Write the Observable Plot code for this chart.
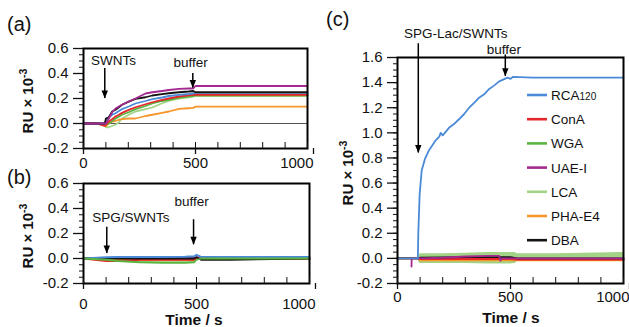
<!DOCTYPE html>
<html><head><meta charset="utf-8">
<script src="https://cdn.jsdelivr.net/npm/d3@7"></script>
<script src="https://cdn.jsdelivr.net/npm/@observablehq/plot@0.6"></script>
<style>
html,body{margin:0;padding:0;background:#fff;}
#wrap{position:relative;width:629px;height:327px;overflow:hidden;font-family:"Liberation Sans",Arial,Helvetica,sans-serif;}
.pn{position:absolute;}
#ov{position:absolute;left:0;top:0;pointer-events:none;}
</style></head><body>
<div id="wrap">
<div class="pn" id="pa" style="left:0;top:0;width:320px;height:170px"></div>
<div class="pn" id="pb" style="left:0;top:170px;width:320px;height:157px"></div>
<div class="pn" id="pc" style="left:320px;top:0;width:309px;height:327px"></div>
<svg id="ov" width="629" height="327" font-family="Liberation Sans, Arial, sans-serif" fill="#111">
  <text x="7" y="31" font-size="20">(a)</text>
  <text x="7" y="184" font-size="20">(b)</text>
  <text x="326" y="26" font-size="20">(c)</text>
  <text transform="translate(33,101) rotate(-90)" text-anchor="middle" font-size="15" font-weight="bold">RU × 10<tspan dy="-6" font-size="10.5">-3</tspan></text>
  <text transform="translate(33,236) rotate(-90)" text-anchor="middle" font-size="15" font-weight="bold">RU × 10<tspan dy="-6" font-size="10.5">-3</tspan></text>
  <text transform="translate(353,173) rotate(-90)" text-anchor="middle" font-size="15" font-weight="bold">RU × 10<tspan dy="-6" font-size="10.5">-3</tspan></text>
  <text x="194" y="325" text-anchor="middle" font-size="15.5" font-weight="bold">Time / s</text>
  <text x="511" y="323" text-anchor="middle" font-size="15.5" font-weight="bold">Time / s</text>
  <g id="legend"></g>
</svg>
</div>
<script>
// ---------- series ----------
const series = ["RCA120", "ConA", "WGA", "UAE-I", "LCA", "PHA-E4", "DBA"];
const colors = ["#4a8ad6", "#e5262b", "#5ab540", "#a4298f", "#a3d386", "#f7962a", "#141414"];

// ---------- tick labels ----------
const xMajor = [0, 500];
const xLast = [1000];
const xMinor = [0, 100, 200, 300, 400, 500, 600, 700, 800, 900, 1000];
const yMajorAB = [-0.2, 0.0, 0.2, 0.4, 0.6];
const yMajorC = [-0.2, 0.0, 0.2, 0.4, 0.6, 0.8, 1.0, 1.2, 1.4, 1.6];

// ---------- panel (a): SWNTs ----------
const tA = [0, 60, 95, 100, 113, 128, 143, 158, 172, 202, 232, 277, 307, 351, 381, 426, 470, 490, 500, 1000];
const aRCA120 = [0, 0, 0, 0.02, 0.05, 0.07, 0.082, 0.10, 0.115, 0.136, 0.16, 0.18, 0.195, 0.208, 0.22, 0.229, 0.236, 0.24, 0.245, 0.245];
const aConA   = [0, 0, -0.02, -0.01, 0.016, 0.035, 0.056, 0.07, 0.085, 0.109, 0.13, 0.154, 0.17, 0.189, 0.20, 0.216, 0.225, 0.23, 0.23, 0.23];
const aWGA    = [0, 0, -0.01, -0.01, 0.0, 0.02, 0.04, 0.055, 0.07, 0.09, 0.115, 0.14, 0.16, 0.18, 0.19, 0.205, 0.215, 0.22, 0.225, 0.225];
const aUAEI   = [0, 0, 0, 0.0, 0.04, 0.09, 0.12, 0.136, 0.15, 0.176, 0.20, 0.24, 0.25, 0.26, 0.268, 0.277, 0.28, 0.28, 0.30, 0.30];
const aLCA    = [0, 0, -0.01, -0.03, -0.03, -0.02, -0.01, 0.01, 0.04, 0.07, 0.096, 0.115, 0.128, 0.162, 0.18, 0.20, 0.21, 0.215, 0.22, 0.22];
const aPHAE4  = [0, 0, -0.02, -0.02, 0.0, 0.015, 0.02, 0.03, 0.035, 0.04, 0.04, 0.06, 0.07, 0.085, 0.096, 0.117, 0.122, 0.125, 0.135, 0.135];
const aDBA    = [0, 0, 0, 0.04, 0.05, 0.096, 0.11, 0.13, 0.15, 0.175, 0.197, 0.21, 0.224, 0.235, 0.242, 0.25, 0.256, 0.26, 0.25, 0.25];

// ---------- panel (b): SPG/SWNTs ----------
const tB = [0, 100, 150, 250, 350, 450, 490, 500, 520, 650, 1000];
const bRCA120 = [0, 0.01, 0.012, 0.012, 0.012, 0.014, 0.018, 0.03, 0.013, 0.012, 0.012];
const bConA   = [0, -0.02, -0.02, -0.01, -0.01, -0.01, -0.01, 0, -0.005, -0.005, -0.005];
const bWGA    = [0, -0.01, -0.02, -0.03, -0.035, -0.035, -0.03, -0.01, 0, 0, 0];
const bUAEI   = [0, 0.005, 0.005, 0.005, 0.005, 0.005, 0.005, 0.01, 0.005, 0.005, 0.005];
const bLCA    = [0, 0, -0.01, -0.02, -0.025, -0.025, -0.02, -0.005, 0, 0, -0.005];
const bPHAE4  = [0, -0.01, -0.01, -0.01, -0.01, -0.01, -0.01, 0, -0.005, -0.005, -0.005];
const bDBA    = [0, 0, 0, 0, 0, 0, 0, 0.01, -0.01, -0.01, 0];

// ---------- panel (c): SPG-Lac/SWNTs ----------
const tC = [0, 90, 92, 98, 107, 121, 139, 169, 185, 191, 200, 228, 250, 273, 295, 317, 340, 361, 385, 406, 430, 450, 487, 500, 510, 600, 800, 1000];
const cRCA120 = [0, 0, 0.2, 0.51, 0.70, 0.79, 0.86, 0.94, 0.97, 1.0, 0.98, 1.04, 1.07, 1.11, 1.15, 1.20, 1.24, 1.28, 1.31, 1.35, 1.38, 1.41, 1.44, 1.43, 1.445, 1.44, 1.44, 1.44];
const tC2 = [0, 92, 100, 200, 300, 400, 450, 500, 530, 700, 1000];
const cConA  = [0, 0, -0.005, -0.005, -0.005, -0.005, -0.005, -0.005, -0.01, -0.01, -0.01];
const cWGA   = [0, 0, -0.01, -0.01, -0.01, -0.01, -0.01, -0.01, -0.005, -0.005, -0.005];
const cPHAE4 = [0, 0, -0.015, -0.015, -0.015, -0.015, -0.015, -0.015, -0.015, -0.015, -0.015];
const cDBA   = [0, 0, 0.005, 0.008, 0.01, 0.01, 0.01, 0.01, 0.0, 0.0, 0.0];
const tUAEI = [62, 62.5, 64, 100, 200, 300, 400, 450, 455, 460, 530, 700, 1000];
const cUAEI = [-0.065, -0.01, 0, 0, 0.005, 0.015, 0.02, 0.02, -0.02, 0.0, 0.0, 0.0, 0.0];
const tLCA = [0, 92, 100, 200, 300, 400, 500, 520, 530, 700, 1000];
const cLCAlo = [0, 0, -0.035, -0.035, -0.035, -0.038, -0.038, -0.035, -0.01, -0.005, 0];
const cLCAhi = [0, 0, 0.03, 0.03, 0.035, 0.04, 0.04, 0.04, 0.03, 0.03, 0.04];

// ---------- annotations (arrows + labels) ----------
const annA = [
  {label: "SWNTs", tx: 134, ty: 0.50, t: 95, y1: 0.44, y2: 0.20},
  {label: "buffer", tx: 478, ty: 0.49, t: 488, y1: 0.40, y2: 0.285}
];
const annB = [
  {label: "SPG/SWNTs", tx: 210, ty: 0.33, t: 103, y1: 0.25, y2: 0.04},
  {label: "buffer", tx: 478, ty: 0.456, t: 487, y1: 0.31, y2: 0.11}
];
const annC = [
  {label: "SPG-Lac/SWNTs", tx: 258, ty: 1.79, t: 92, y1: 1.71, y2: 0.84},
  {label: "buffer", tx: 471, ty: 1.66, t: 477, y1: 1.62, y2: 1.45}
];

// ---------- helpers ----------
function rows(ts, vals, name) { return ts.map((t, i) => ({t, v: vals[i], s: name})); }
function multi(list) { return list.flatMap(([ts, vals, name]) => rows(ts, vals, name)); }

const headDown = {
  draw(ctx) { ctx.moveTo(0, 0); ctx.lineTo(-3.2, -8); ctx.lineTo(3.2, -8); ctx.closePath(); }
};
function arrowMarks(ann) {
  return [
    Plot.ruleX(ann, {x: "t", y1: "y1", y2: "y2", stroke: "#000", strokeWidth: 1.5}),
    Plot.dot(ann, {x: "t", y: "y2", symbol: headDown, fill: "#000", stroke: "none"}),
    Plot.text(ann, {x: "tx", y: "ty", text: "label", fontSize: 13.5, fill: "#111"})
  ];
}
function yMinorOf(lo, hi) { return d3.range(Math.round(lo * 20), Math.round(hi * 20) + 1).map(k => k / 20); }

function makePanel(o) {
  return Plot.plot({
    width: o.width, height: o.height,
    marginLeft: o.ml, marginRight: o.mr, marginTop: o.mt, marginBottom: o.mb,
    x: {domain: [0, 1000], label: null},
    y: {domain: o.yDomain, label: null},
    color: {domain: series, range: colors},
    style: {fontFamily: "Liberation Sans, Arial, sans-serif", fontSize: "15px", color: "#111", background: "transparent", overflow: "visible"},
    marks: [
      ...o.marks,
      Plot.frame({stroke: "#000", strokeWidth: 2}),
      Plot.axisY(o.yMajor, {tickSize: 10, tickPadding: 5, strokeWidth: 1.3, tickFormat: d => d.toFixed(1), label: null, fontSize: 15}),
      Plot.axisY(yMinorOf(o.yDomain[0], o.yDomain[1]), {tickSize: 4, strokeWidth: 1, tickFormat: () => "", label: null}),
      Plot.axisX(xMajor, {tickSize: 6, tickPadding: o.xPad, strokeWidth: 1.3, tickFormat: d => String(d), label: null, fontSize: 15}),
      Plot.axisX(xLast, {tickSize: 6, tickPadding: o.xPad, strokeWidth: 1.3, tickFormat: d => String(d), label: null, fontSize: 15, textAnchor: "end", dx: 6}),
      Plot.axisX(xMinor, {tickSize: 6, dy: -6, strokeWidth: 1, tickFormat: () => "", label: null})
    ]
  });
}

const lineOpts = {x: "t", y: "v", z: "s", stroke: "s", strokeWidth: 1.8, curve: "linear"};

// Panel (a)
const dataA = multi([
  [tA, aLCA, "LCA"], [tA, aPHAE4, "PHA-E4"], [tA, aWGA, "WGA"], [tA, aConA, "ConA"],
  [tA, aRCA120, "RCA120"], [tA, aDBA, "DBA"], [tA, aUAEI, "UAE-I"]
]);
document.getElementById("pa").append(makePanel({
  width: 320, height: 170, ml: 83, mr: 13, mt: 48, mb: 22, xPad: 3,
  yDomain: [-0.2, 0.6], yMajor: yMajorAB,
  marks: [
    Plot.ruleY([0], {stroke: "#555", strokeWidth: 1.2}),
    Plot.line(dataA, lineOpts),
    ...arrowMarks(annA)
  ]
}));

// Panel (b)
const dataB = multi([
  [tB, bLCA, "LCA"], [tB, bPHAE4, "PHA-E4"], [tB, bConA, "ConA"], [tB, bUAEI, "UAE-I"],
  [tB, bDBA, "DBA"], [tB, bRCA120, "RCA120"], [tB, bWGA, "WGA"]
]);
document.getElementById("pb").append(makePanel({
  width: 320, height: 157, ml: 83, mr: 11, mt: 13, mb: 44, xPad: 9,
  yDomain: [-0.2, 0.6], yMajor: yMajorAB,
  marks: [
    Plot.line(dataB, lineOpts),
    ...arrowMarks(annB)
  ]
}));

// Panel (c)
const lcaBand = tLCA.map((t, i) => ({t, lo: cLCAlo[i], hi: cLCAhi[i]}));
const dataC = multi([
  [tC2, cWGA, "WGA"], [tC2, cPHAE4, "PHA-E4"], [tC2, cConA, "ConA"], [tC2, cDBA, "DBA"],
  [tUAEI, cUAEI, "UAE-I"], [tC, cRCA120, "RCA120"]
]);
document.getElementById("pc").append(makePanel({
  width: 309, height: 327, ml: 77, mr: 6, mt: 57, mb: 44, xPad: 2,
  yDomain: [-0.2, 1.6], yMajor: yMajorC,
  marks: [
    Plot.areaY(lcaBand, {x: "t", y1: "lo", y2: "hi", fill: colors[4], stroke: colors[4], strokeWidth: 1.5}),
    Plot.line(dataC, lineOpts),
    ...arrowMarks(annC)
  ]
}));

// Legend for (c)
const lg = d3.select("#legend");
series.forEach((name, i) => {
  const y = 95 + i * 24.2;
  lg.append("line").attr("x1", 527).attr("x2", 547).attr("y1", y).attr("y2", y)
    .attr("stroke", colors[i]).attr("stroke-width", 2.6);
  const tx = lg.append("text").attr("x", 551).attr("y", y + 5).attr("font-size", 13.5);
  if (name === "RCA120") {
    tx.text("RCA");
    tx.append("tspan").attr("font-size", 10).text("120");
  } else {
    tx.text(name);
  }
});
</script>
</body></html>
